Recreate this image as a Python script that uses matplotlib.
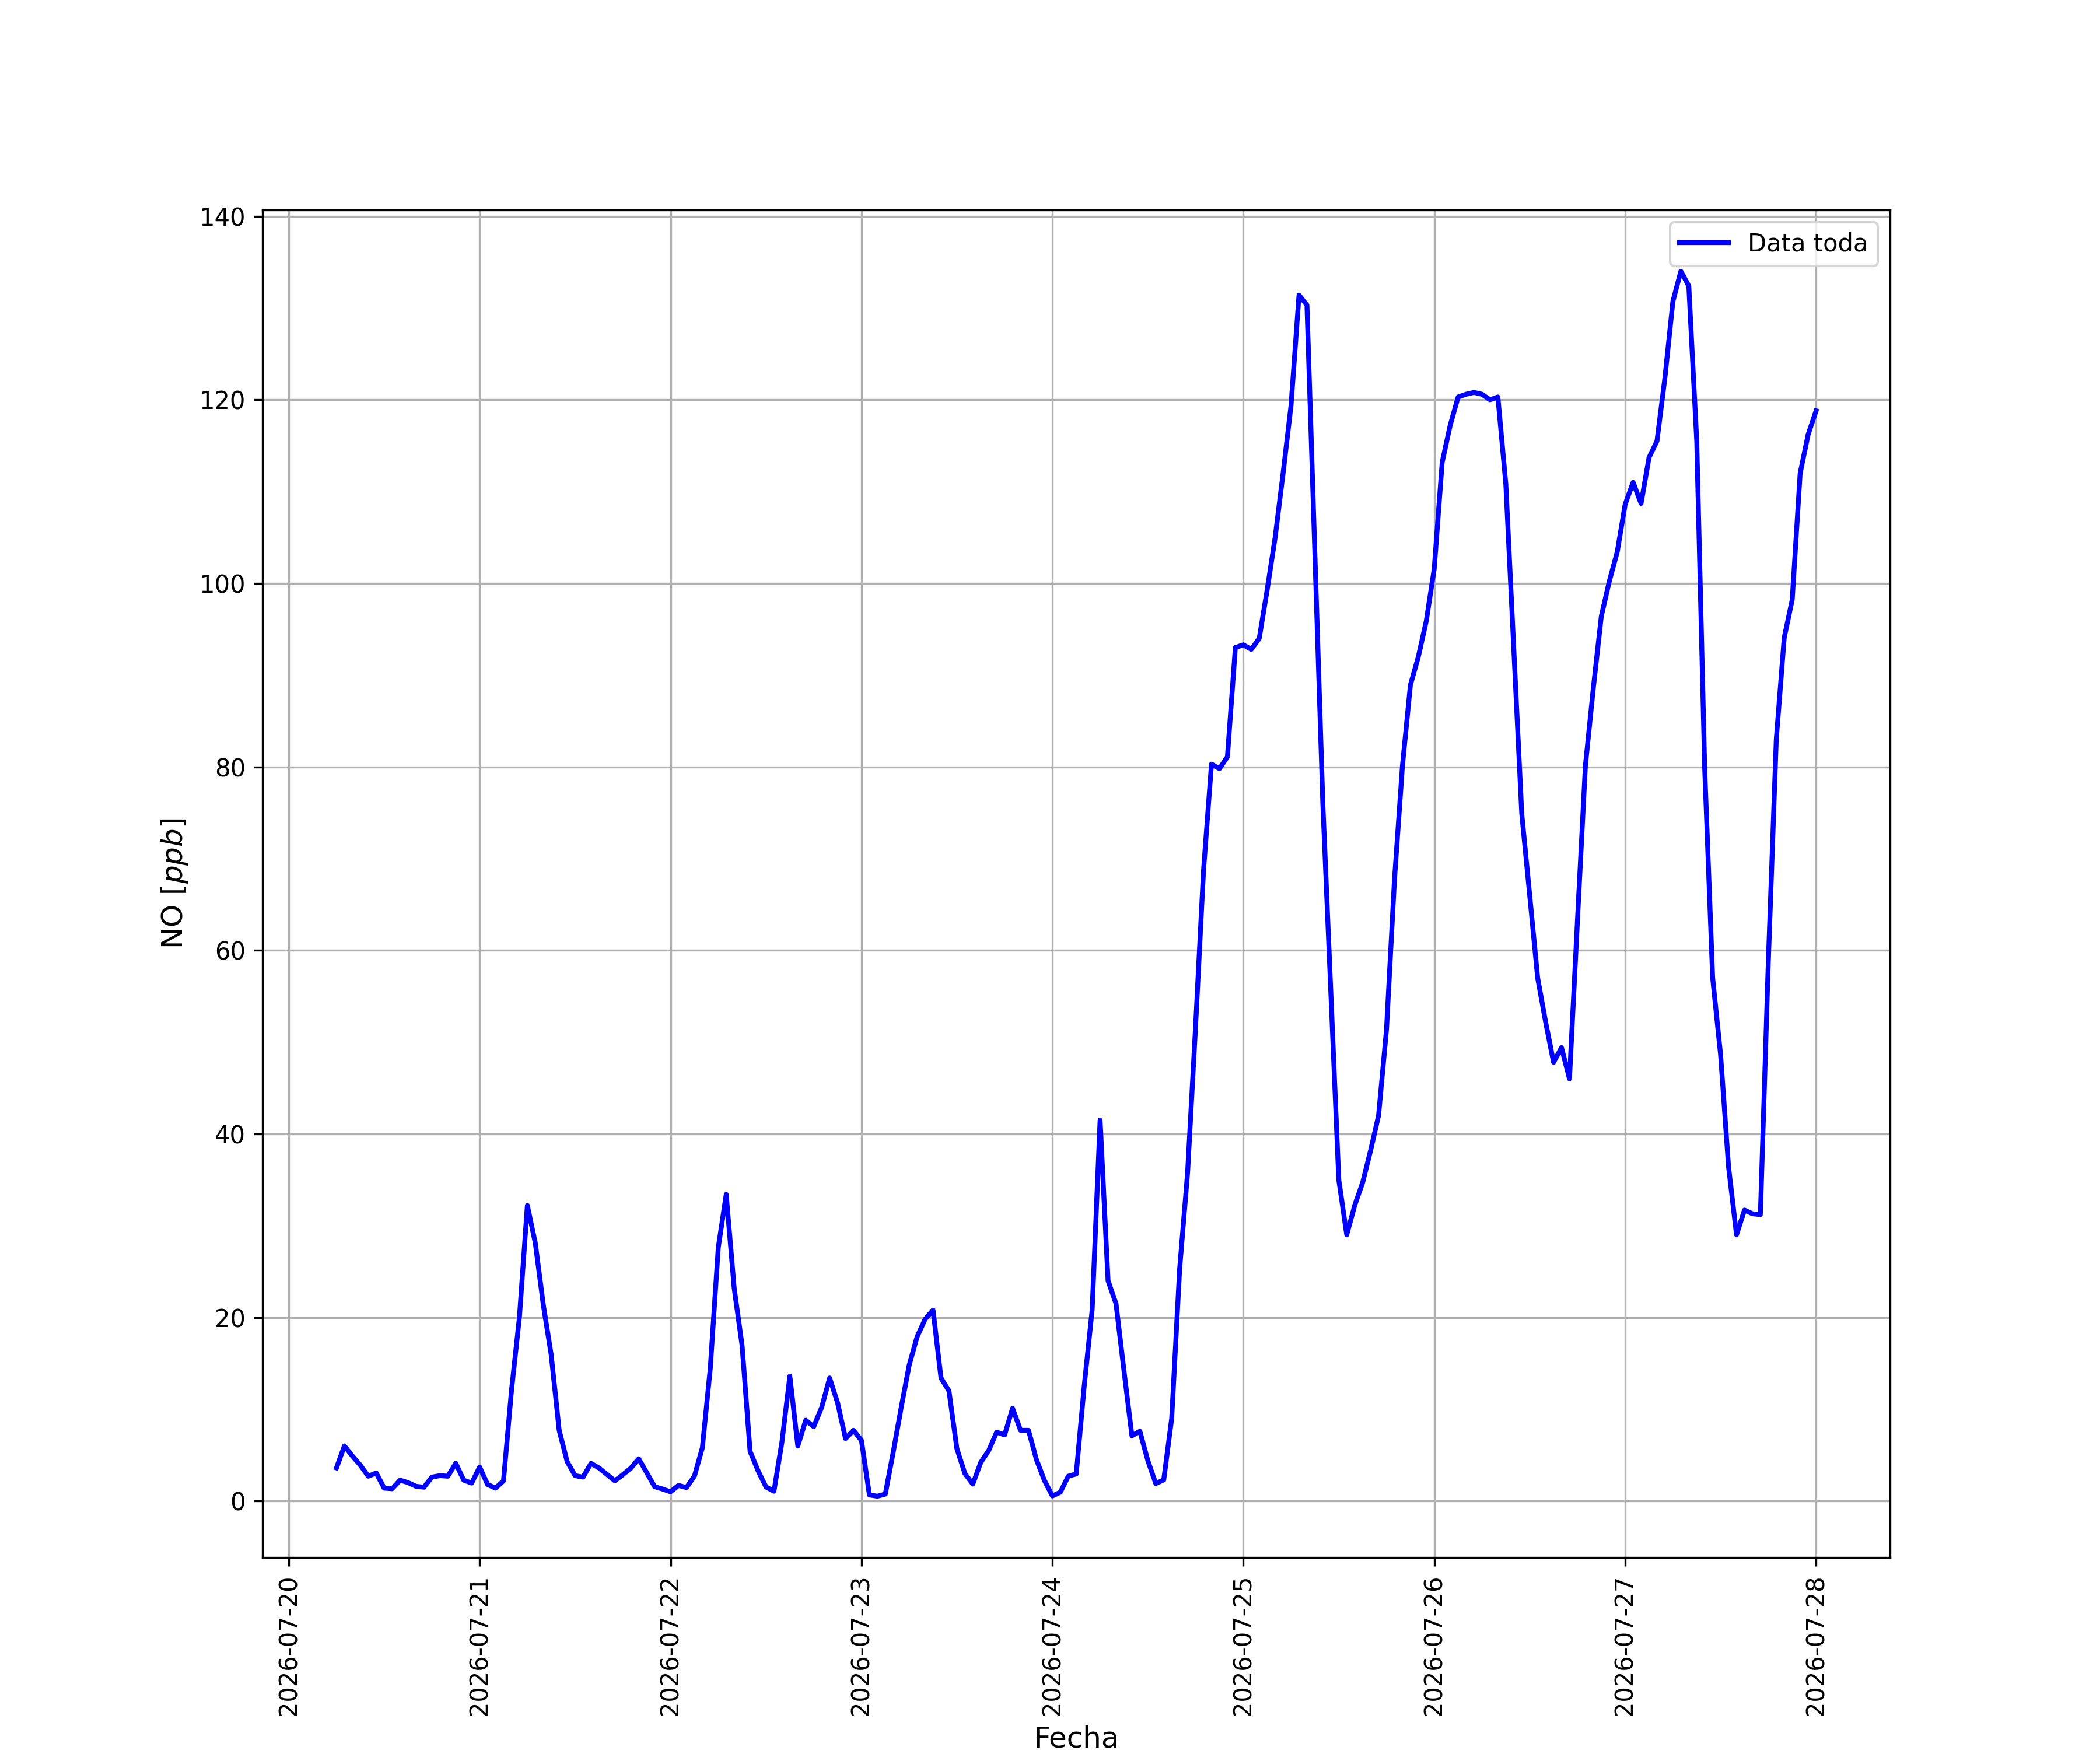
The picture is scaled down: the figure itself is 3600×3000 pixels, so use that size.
import pandas as pd
import matplotlib
matplotlib.use('Agg')
import matplotlib.pyplot as plt
import matplotlib.dates as mdates

# NO hourly readings, one list per day (first reading 2026-07-20 06:00)
dia_20 = [3.6, 6.0, 4.9, 3.9, 2.7, 3.05, 1.4, 1.33, 2.27, 2.0, 1.6, 1.5,
          2.6, 2.76, 2.7, 4.1, 2.27, 1.95]
dia_21 = [3.7, 1.8, 1.4, 2.2, 12.0, 20.0, 32.2, 28.1, 21.4, 15.9, 7.7, 4.3,
          2.76, 2.6, 4.1, 3.6, 2.9, 2.2, 2.86, 3.57, 4.6, 3.1, 1.56, 1.3]
dia_22 = [1.0, 1.7, 1.46, 2.7, 5.8, 14.5, 27.6, 33.4, 23.2, 16.9, 5.4, 3.3,
          1.53, 1.06, 6.4, 13.6, 6.0, 8.8, 8.1, 10.2, 13.4, 10.7, 6.8, 7.7]
dia_23 = [6.6, 0.66, 0.52, 0.75, 5.35, 10.2, 14.8, 17.9, 19.8, 20.8, 13.4, 12.0,
          5.7, 3.0, 1.84, 4.2, 5.5, 7.5, 7.2, 10.1, 7.7, 7.7, 4.5, 2.24]
dia_24 = [0.55, 0.95, 2.7, 2.95, 12.5, 20.8, 41.5, 24.0, 21.5, 14.2, 7.1, 7.6,
          4.4, 1.9, 2.3, 9.0, 25.3, 35.8, 51.7, 68.7, 80.3, 79.8, 81.1, 93.0]
dia_25 = [93.3, 92.8, 94.0, 99.3, 105.0, 112.0, 119.4, 131.4, 130.3, 103.0, 75.9, 55.5,
          35.0, 29.0, 32.2, 34.7, 38.2, 42.0, 51.4, 67.7, 80.1, 88.9, 92.0, 95.9]
dia_26 = [101.6, 113.2, 117.2, 120.3, 120.6, 120.8, 120.6, 120.0, 120.3, 110.8, 92.9, 74.9,
          66.0, 57.0, 52.2, 47.8, 49.4, 46.0, 63.2, 80.1, 88.6, 96.4, 100.2, 103.4]
dia_27 = [108.6, 111.0, 108.7, 113.7, 115.5, 122.4, 130.7, 134.0, 132.4, 115.5, 79.8, 57.0,
          48.6, 36.4, 29.0, 31.7, 31.3, 31.2, 58.8, 83.0, 94.1, 98.2, 112.0, 116.2]
dia_28 = [118.8]

valores = dia_20 + dia_21 + dia_22 + dia_23 + dia_24 + dia_25 + dia_26 + dia_27 + dia_28
fechas = pd.date_range('2026-07-20 06:00', periods=len(valores), freq='h')

df = pd.DataFrame({'NO': valores}, index=fechas)

fig = plt.figure(figsize=(12, 10), dpi=300)
plt.plot(df.index, df['NO'], color='b', linewidth=2, label='Data toda')
plt.grid(True)
plt.legend(loc='upper right')
plt.xlabel('Fecha', fontsize=12)
plt.ylabel('NO $[ppb]$', fontsize=12)
plt.gca().xaxis.set_major_locator(mdates.DayLocator())
plt.gca().xaxis.set_major_formatter(mdates.DateFormatter('%Y-%m-%d'))
plt.xticks(rotation=90)
plt.savefig('out.png', dpi=300)
